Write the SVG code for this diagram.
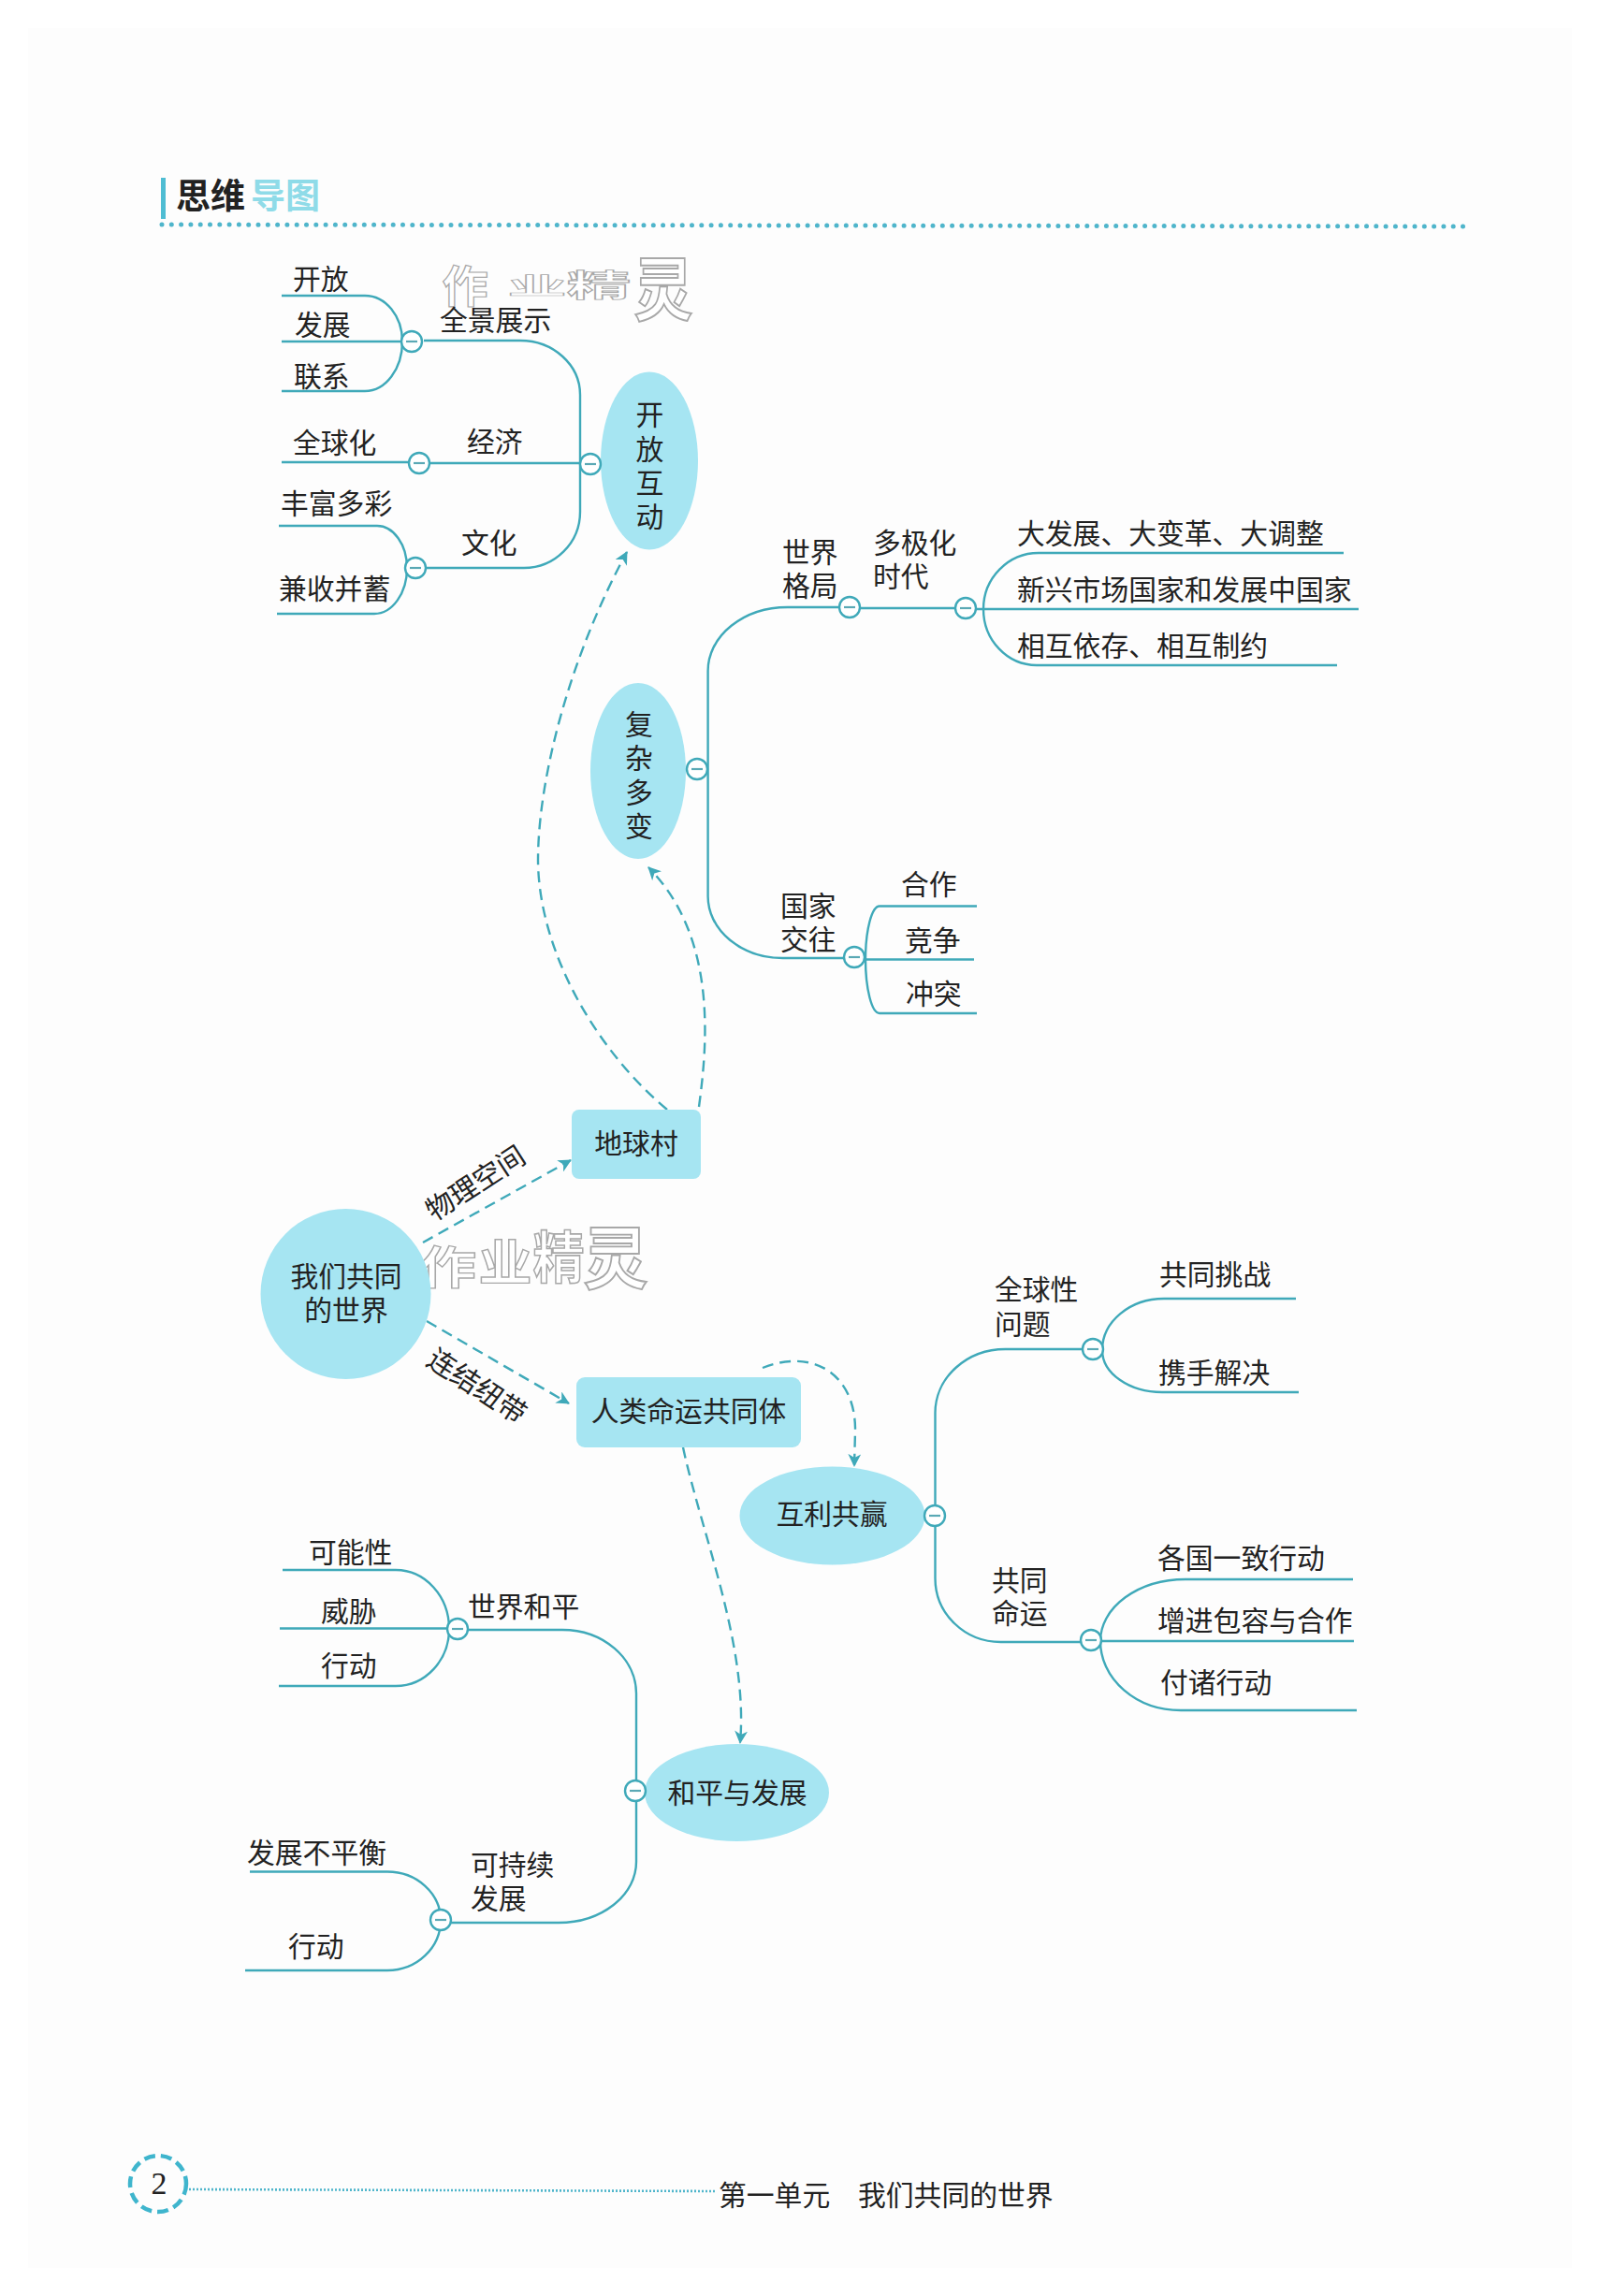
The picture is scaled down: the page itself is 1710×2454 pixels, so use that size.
<svg xmlns="http://www.w3.org/2000/svg" width="1710" height="2454" viewBox="0 0 1710 2454">
<defs>
<marker id="arr" markerWidth="16" markerHeight="14" refX="13" refY="7" orient="auto" markerUnits="userSpaceOnUse"><path d="M0 0L14 7L0 14L4 7Z" fill="#3fa9b9"/></marker>
</defs>
<style>
text{font-family:"Noto Sans CJK SC","Liberation Sans",sans-serif;font-size:29.8px;fill:#222;dominant-baseline:central}
.c{text-anchor:middle}
.l{fill:none;stroke:#3fa9b9;stroke-width:2.4}
.d{fill:none;stroke:#3fa9b9;stroke-width:2.4;stroke-dasharray:12 7}
.n{fill:#a6e5f2}
.m{fill:#fff;stroke:#3fa9b9;stroke-width:2.4}
.mm{stroke:#5aa9b5;stroke-width:2.2}
.w{font-weight:700;fill:#fff;stroke:#a8a8a8;stroke-width:1.6;font-size:60px;text-anchor:middle}
</style>
<rect width="1710" height="2454" fill="#ffffff"/>
<rect x="30" y="30" width="1650" height="2394" fill="#fdfdfd"/>
<g id="header">
<rect x="172" y="190" width="5" height="44" fill="#4fbdd3"/>
<text x="188" y="207" style="font-size:37px;font-weight:700">思维</text>
<text x="268" y="207" style="font-size:37px;font-weight:700;fill:#8fdbe8">导图</text>
<line x1="173" y1="240" x2="1566" y2="242" stroke="#4fb5cb" stroke-width="5" stroke-linecap="round" stroke-dasharray="0 10.3"/>
</g>
<g id="watermarks">
<text class="w" transform="translate(497 303) scale(.82 .78)">作</text>
<text class="w" transform="translate(574 304) scale(1.05 .42)">业</text>
<text class="w" transform="translate(640 303) scale(1.15 .55)">精</text>
<text class="w" transform="translate(709 304) scale(1.05 1.22)">灵</text>
<text class="w" transform="translate(479 1351) scale(1 .8)">作</text>
<text class="w" transform="translate(540 1346) scale(.95 .88)">业</text>
<text class="w" transform="translate(597 1340) scale(.92 1)">精</text>
<text class="w" transform="translate(658 1339) scale(1.15 1.2)">灵</text>
</g>
<g id="connectors">
<path class="l" d="M453 364H556A64 58 0 0 1 620 422V547A60 60 0 0 1 560 607H455"/>
<path class="l" d="M460 495H620"/>
<path class="l" d="M301 316H390A40 49 0 0 1 430 365A40 53 0 0 1 390 418H301"/>
<path class="l" d="M301 365H430"/>
<path class="l" d="M301 494H437"/>
<path class="l" d="M298 562H403A32 45 0 0 1 435 607A35 49 0 0 1 400 656H296"/>
<path class="l" d="M897 649H842A85 68 0 0 0 756.6 717V958A80 66 0 0 0 837 1024H902"/>
<path class="l" d="M919 650H1021"/>
<path class="l" d="M1043 651H1452"/>
<path class="l" d="M1436 591H1110A59 60 0 0 0 1051 651A57 60 0 0 0 1108 711H1429"/>
<path class="l" d="M1044 968.500H940A15 57 0 0 0 925 1025A15 58 0 0 0 940 1083H1044"/>
<path class="l" d="M925 1025.500H1041"/>
<path class="l" d="M1157 1442H1075A75 68 0 0 0 999.500 1510V1687A70 68 0 0 0 1070 1755H1155"/>
<path class="l" d="M1385 1388H1244A66 55 0 0 0 1178 1443A64 45 0 0 0 1242 1488H1388"/>
<path class="l" d="M1446 1688H1267A91 66 0 0 0 1176 1754A86 74 0 0 0 1262 1828H1450"/>
<path class="l" d="M1177 1754H1447"/>
<path class="l" d="M500 1742H601A79 68 0 0 1 680 1810V1990A83 65 0 0 1 597 2055H482"/>
<path class="l" d="M302 1678H423A57 63 0 0 1 480 1741A57 61 0 0 1 423 1802H298"/>
<path class="l" d="M299 1740.500H478"/>
<path class="l" d="M267 2000.500H414A57 52 0 0 1 471 2052A57 54 0 0 1 414 2106H262"/>
<path class="d" marker-end="url(#arr)" d="M452 1328L610 1240"/>
<path class="d" marker-end="url(#arr)" d="M456 1412L608 1500"/>
<path class="d" marker-end="url(#arr)" d="M713 1186C640 1125 576 1020 575 920C575 830 610 700 670 590"/>
<path class="d" marker-end="url(#arr)" d="M747 1183C757 1110 765 1000 693 927"/>
<path class="d" marker-end="url(#arr)" d="M815 1462C870 1440 915 1470 914 1530L913 1567"/>
<path class="d" marker-end="url(#arr)" d="M730 1547C750 1640 800 1760 791 1863"/>
</g>
<g id="node-root"><ellipse class="n" cx="369.500" cy="1383" rx="91" ry="91"/><text class="c" x="370" y="1362">我们共同</text><text class="c" x="370" y="1398">的世界</text></g>
<g id="node-earth"><rect class="n" x="611" y="1186" width="138" height="74" rx="8"/><text class="c" x="680" y="1220">地球村</text></g>
<g id="node-community"><rect class="n" x="616" y="1472" width="240" height="75" rx="9"/><text class="c" x="736" y="1506">人类命运共同体</text></g>
<g id="node-open"><ellipse class="n" cx="694" cy="492.500" rx="52" ry="95"/><text class="c" x="694.500" y="441">开</text><text class="c" x="694.500" y="478">放</text><text class="c" x="694.500" y="514">互</text><text class="c" x="694.500" y="550">动</text></g>
<g id="node-complex"><ellipse class="n" cx="682" cy="824" rx="51" ry="94"/><text class="c" x="683" y="772">复</text><text class="c" x="683" y="808">杂</text><text class="c" x="683" y="845">多</text><text class="c" x="683" y="881">变</text></g>
<g id="node-win"><ellipse class="n" cx="889.500" cy="1620" rx="99" ry="52.500"/><text class="c" x="889" y="1616">互利共赢</text></g>
<g id="node-peace"><ellipse class="n" cx="787.500" cy="1916" rx="98.500" ry="52"/><text class="c" x="788" y="1914">和平与发展</text></g>
<g id="toggles">
<g id="t1"><circle class="m" cx="631" cy="496" r="11"/><path class="mm" d="M625 496H637"/></g>
<g id="t2"><circle class="m" cx="440" cy="365" r="11"/><path class="mm" d="M434 365H446"/></g>
<g id="t3"><circle class="m" cx="448" cy="495" r="11"/><path class="mm" d="M442 495H454"/></g>
<g id="t4"><circle class="m" cx="444" cy="607" r="11"/><path class="mm" d="M438 607H450"/></g>
<g id="t5"><circle class="m" cx="745" cy="822" r="11"/><path class="mm" d="M739 822H751"/></g>
<g id="t6"><circle class="m" cx="908" cy="649" r="11"/><path class="mm" d="M902 649H914"/></g>
<g id="t7"><circle class="m" cx="1032" cy="650" r="11"/><path class="mm" d="M1026 650H1038"/></g>
<g id="t8"><circle class="m" cx="913" cy="1023" r="11"/><path class="mm" d="M907 1023H919"/></g>
<g id="t9"><circle class="m" cx="999" cy="1620" r="11"/><path class="mm" d="M993 1620H1005"/></g>
<g id="t10"><circle class="m" cx="1168" cy="1442" r="11"/><path class="mm" d="M1162 1442H1174"/></g>
<g id="t11"><circle class="m" cx="1166" cy="1753" r="11"/><path class="mm" d="M1160 1753H1172"/></g>
<g id="t12"><circle class="m" cx="679" cy="1914" r="11"/><path class="mm" d="M673 1914H685"/></g>
<g id="t13"><circle class="m" cx="489" cy="1741" r="11"/><path class="mm" d="M483 1741H495"/></g>
<g id="t14"><circle class="m" cx="471" cy="2052" r="11"/><path class="mm" d="M465 2052H477"/></g>
</g>
<g id="labels" transform="translate(0 -2.5)">
<text x="313" y="298">开放</text><text x="315" y="347">发展</text><text x="314" y="402">联系</text>
<text x="470" y="342">全景展示</text><text x="313" y="473">全球化</text><text x="499" y="472">经济</text>
<text x="300" y="538">丰富多彩</text><text x="493" y="580">文化</text><text x="298" y="629">兼收并蓄</text>
<text x="836" y="590">世界</text><text x="836" y="626">格局</text><text x="933" y="580">多极化</text><text x="933" y="616">时代</text>
<text x="1087" y="570">大发展、大变革、大调整</text><text x="1087" y="630">新兴市场国家和发展中国家</text><text x="1087" y="690">相互依存、相互制约</text>
<text x="834" y="968">国家</text><text x="834" y="1004">交往</text>
<text x="963" y="945">合作</text><text x="967" y="1005">竞争</text><text x="968" y="1062">冲突</text>
<text class="c" x="507" y="1265" transform="rotate(-33 507 1265)">物理空间</text>
<text class="c" x="511" y="1482" transform="rotate(33 511 1482)">连结纽带</text>
<text x="1063" y="1378">全球性</text><text x="1063" y="1415">问题</text><text x="1060" y="1689">共同</text><text x="1060" y="1724">命运</text>
<text x="1239" y="1362">共同挑战</text><text x="1238" y="1467">携手解决</text>
<text x="1237" y="1665">各国一致行动</text><text x="1237" y="1732">增进包容与合作</text><text x="1240" y="1798">付诸行动</text>
<text x="500" y="1717">世界和平</text><text x="503" y="1993">可持续</text><text x="503" y="2029">发展</text>
<text x="330" y="1659">可能性</text><text x="343" y="1722">威胁</text><text x="343" y="1780">行动</text>
<text x="264" y="1980">发展不平衡</text><text x="308" y="2080">行动</text>
</g>
<g id="footer">
<circle cx="169" cy="2334" r="30" fill="none" stroke="#3fb5cd" stroke-width="4.500" stroke-dasharray="12 6"/>
<text class="c" x="170" y="2333" style="font-family:'Liberation Serif',serif;font-size:34px">2</text>
<line x1="202" y1="2340" x2="766" y2="2342" stroke="#4fb5cb" stroke-width="2.600" stroke-dasharray="2 2"/>
<text x="768" y="2344">第一单元</text><text x="917" y="2344">我们共同的世界</text>
</g>
</svg>
